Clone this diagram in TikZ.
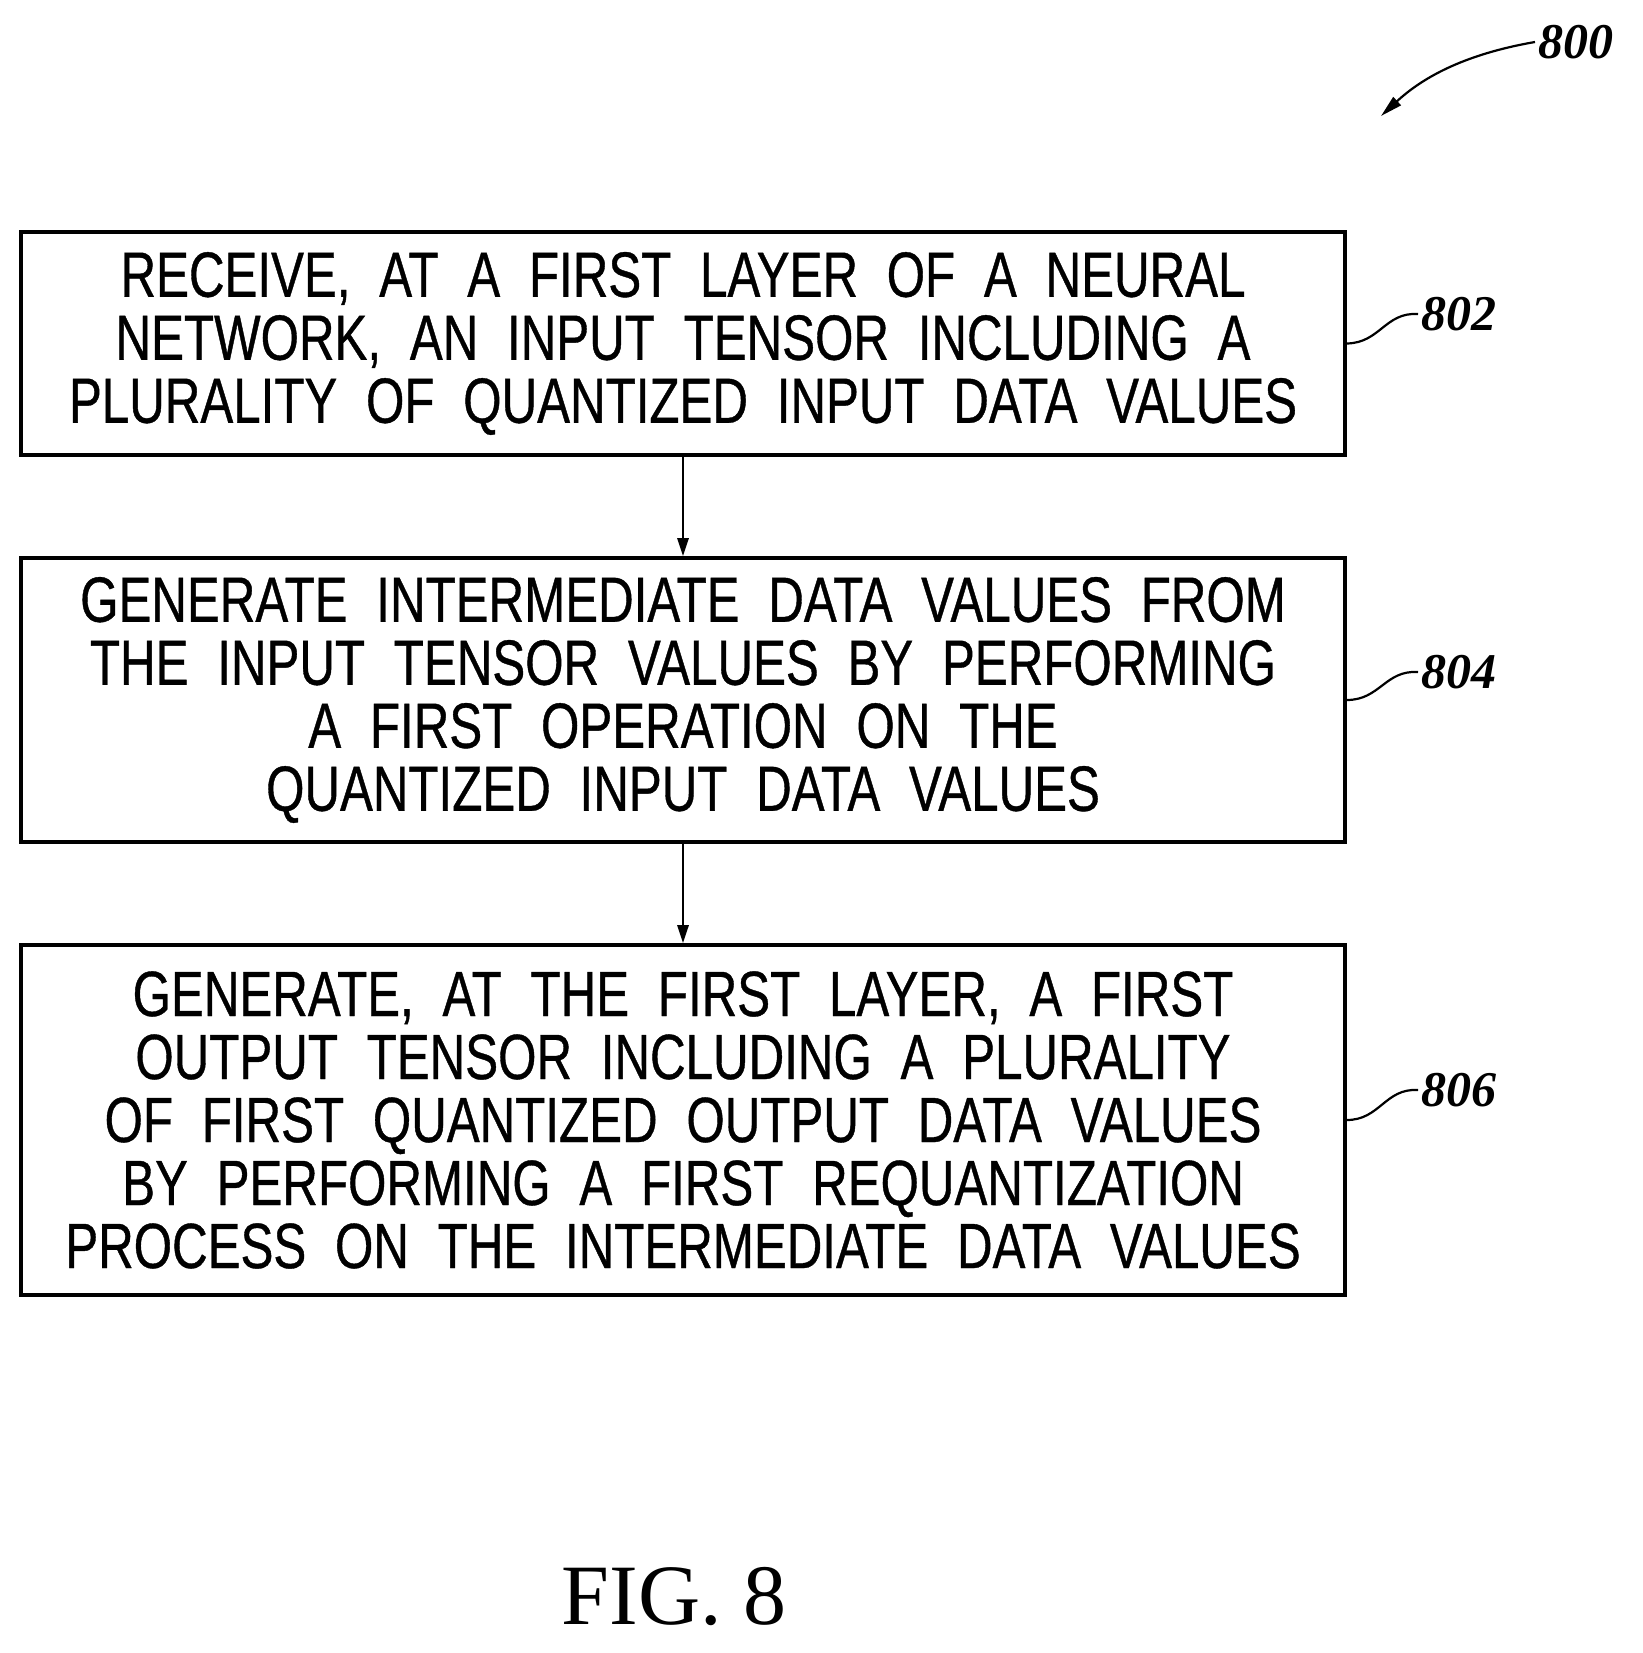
\documentclass[tikz,border=0pt]{standalone}
\usepackage{fontspec}
\setmainfont{Liberation Serif}
\newfontfamily\pf[FakeStretch=0.77,WordSpace=2.1,FakeBold=0.6]{Liberation Sans}
\usetikzlibrary{arrows.meta}
\begin{document}
\begin{tikzpicture}[x=1pt,y=-1pt,
  box/.style={draw,line width=3.6pt,minimum width=1324pt,align=center,inner sep=0pt,
    font=\pf\fontsize{64}{63}\selectfont},
  lab/.style={font=\fontsize{50}{50}\selectfont\itshape\bfseries},
  arr/.style={line width=2.8pt,-{Triangle[length=18pt,width=11pt]}}]
\useasboundingbox (0,0) rectangle (1642,1653);
\node[box,minimum height=223pt] (b1) at (683,343.5) {RECEIVE, AT A FIRST LAYER OF A NEURAL\\NETWORK, AN INPUT TENSOR INCLUDING A\\PLURALITY OF QUANTIZED INPUT DATA VALUES};
\node[box,minimum height=284pt] (b2) at (683,700) {GENERATE INTERMEDIATE DATA VALUES FROM\\THE INPUT TENSOR VALUES BY PERFORMING\\A FIRST OPERATION ON THE\\QUANTIZED INPUT DATA VALUES};
\node[box,minimum height=350pt] (b3) at (683,1120) {GENERATE, AT THE FIRST LAYER, A FIRST\\OUTPUT TENSOR INCLUDING A PLURALITY\\OF FIRST QUANTIZED OUTPUT DATA VALUES\\BY PERFORMING A FIRST REQUANTIZATION\\PROCESS ON THE INTERMEDIATE DATA VALUES};
\draw[arr] (b1.south) -- (b2.north);
\draw[arr] (b2.south) -- (b3.north);
\node[lab,anchor=west] (l2) at (1418,314) {802};
\node[lab,anchor=west] (l4) at (1418,672) {804};
\node[lab,anchor=west] (l6) at (1418,1090) {806};
\draw[line width=2.2pt] (b1.east) .. controls (1380,343) and (1385,312) .. (l2.west);
\draw[line width=2.2pt] (b2.east) .. controls (1380,700) and (1385,670) .. (l4.west);
\draw[line width=2.2pt] (b3.east) .. controls (1380,1120) and (1385,1088) .. (l6.west);
\node[lab,anchor=west] (l0) at (1535,42) {800};
\coordinate (t0) at (1381,116);
\draw[line width=2.2pt,-{Triangle[length=22pt,width=11pt]}] (l0.west) .. controls (1460,55) and (1420,80) .. (t0);
\node[font=\fontsize{86}{86}\selectfont] (fig) at (674,1596) {FIG. 8};
\end{tikzpicture}
\end{document}
